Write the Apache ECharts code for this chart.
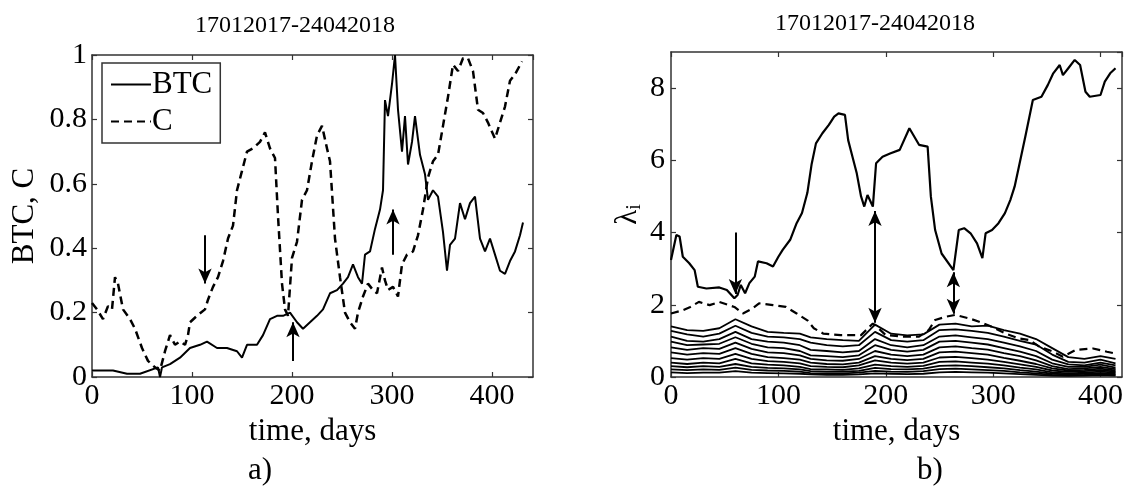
<!DOCTYPE html>
<html>
<head>
<meta charset="utf-8">
<script src="https://cdn.jsdelivr.net/npm/echarts@6/dist/echarts.min.js"></script>
<style>
  html, body { margin: 0; padding: 0; background: #fff; }
  #myChart { width: 1126px; height: 488px; }
</style>
</head>
<body>
<div id="myChart"></div>
<script>
// panel a) : BTC and C, normalized
var btcDays = [0,11,21,35,48,66,68,70,78,88,98,108,115,125,135,145,150,155,165,171,178,185,191,198,205,211,218,225,231,238,245,251,256,261,266,270,273,278,283,288,291,293,296,300,303,306,310,313,316,320,323,328,333,336,341,346,351,355,358,363,368,373,378,383,388,393,398,403,408,413,418,423,428,431];
var btcVals = [0.02,0.02,0.02,0.01,0.01,0.03,0.00,0.03,0.04,0.06,0.09,0.10,0.11,0.09,0.09,0.08,0.06,0.10,0.10,0.13,0.18,0.19,0.19,0.20,0.17,0.15,0.17,0.19,0.21,0.26,0.27,0.29,0.31,0.35,0.31,0.29,0.38,0.39,0.46,0.52,0.58,0.86,0.81,0.91,1.00,0.83,0.70,0.81,0.66,0.73,0.81,0.69,0.63,0.55,0.58,0.56,0.45,0.33,0.41,0.43,0.54,0.49,0.54,0.56,0.43,0.39,0.43,0.38,0.33,0.32,0.36,0.39,0.44,0.48];

var cDays = [0,5,11,16,20,23,26,31,38,43,50,56,63,68,73,78,83,88,93,96,98,105,113,116,121,126,131,136,141,145,150,155,161,168,173,178,183,186,190,193,196,200,205,210,215,220,225,230,235,238,243,248,253,258,263,266,271,276,281,285,290,293,296,301,306,310,315,321,326,331,336,341,346,351,356,361,366,371,376,381,386,391,396,403,408,413,418,423,430];
var cVals = [0.23,0.21,0.18,0.22,0.21,0.31,0.29,0.21,0.18,0.15,0.09,0.05,0.03,0.02,0.08,0.13,0.10,0.11,0.10,0.13,0.17,0.19,0.21,0.24,0.28,0.31,0.36,0.43,0.47,0.58,0.64,0.70,0.71,0.73,0.76,0.71,0.68,0.50,0.29,0.21,0.19,0.37,0.42,0.55,0.58,0.67,0.75,0.78,0.71,0.67,0.43,0.31,0.20,0.17,0.15,0.20,0.25,0.29,0.27,0.26,0.34,0.30,0.27,0.28,0.25,0.35,0.38,0.39,0.44,0.52,0.62,0.67,0.69,0.78,0.87,0.97,0.95,0.99,0.99,0.95,0.83,0.82,0.79,0.74,0.79,0.84,0.92,0.94,0.98];

// arrows in a): [day, from, to]
var arrowsA = [[113, 0.44, 0.29], [201, 0.05, 0.17], [301, 0.38, 0.52]];

// panel b) : eigenvalues
var lam1Days = [0,5,8,11,17,22,25,33,45,52,59,62,65,69,73,78,81,89,95,100,104,111,117,122,127,131,135,141,147,152,156,162,165,169,173,177,180,183,188,191,197,204,213,222,231,239,242,246,252,263,268,273,279,285,290,293,299,305,311,316,320,324,330,337,345,351,356,362,365,370,376,381,386,390,400,404,409,414];
var lam1Vals = [3.24,3.93,3.89,3.33,3.15,2.96,2.50,2.45,2.48,2.41,2.18,2.27,2.55,2.32,2.60,2.78,3.20,3.15,3.06,3.33,3.52,3.80,4.26,4.54,5.10,5.90,6.47,6.75,6.98,7.21,7.30,7.26,6.56,6.10,5.64,5.00,4.72,5.04,4.72,5.92,6.10,6.19,6.29,6.89,6.43,6.38,5.00,4.07,3.42,2.96,4.07,4.12,3.98,3.70,3.29,3.98,4.07,4.26,4.54,4.90,5.27,5.82,6.66,7.67,7.76,8.09,8.41,8.64,8.36,8.55,8.78,8.64,7.90,7.76,7.81,8.18,8.41,8.55];

var lam2Days = [0,11,18,26,36,45,59,67,76,82,95,107,117,127,133,142,158,177,188,190,200,216,231,240,246,256,265,278,287,299,312,324,334,343,356,365,377,393,406,414];
var lam2Vals = [1.76,1.85,1.94,2.08,1.99,2.08,1.94,1.76,1.90,2.04,1.99,1.94,1.76,1.57,1.35,1.20,1.16,1.16,1.48,1.44,1.16,1.12,1.12,1.30,1.58,1.67,1.72,1.62,1.53,1.39,1.20,1.07,1.02,0.84,0.70,0.56,0.75,0.79,0.70,0.65];

var lowDays = [0,15,30,45,60,75,90,105,120,130,145,160,175,190,205,220,235,250,265,280,295,310,325,340,355,370,385,400,414];
var lam3 = [1.40,1.30,1.28,1.35,1.60,1.40,1.25,1.22,1.20,1.10,1.05,1.02,1.00,1.45,1.20,1.15,1.18,1.45,1.48,1.40,1.42,1.30,1.20,1.05,0.80,0.55,0.50,0.58,0.50];
var lam4 = [1.28,1.18,1.12,1.20,1.42,1.22,1.12,1.10,1.05,0.95,0.88,0.85,0.88,1.25,1.02,0.98,1.02,1.30,1.32,1.28,1.22,1.12,1.00,0.90,0.62,0.42,0.40,0.48,0.38];
var lam5 = [1.12,1.00,0.98,1.05,1.25,1.05,0.98,0.95,0.88,0.75,0.72,0.68,0.72,1.05,0.88,0.82,0.88,1.12,1.15,1.10,1.05,0.95,0.85,0.72,0.48,0.35,0.32,0.40,0.32];
var lam6 = [0.98,0.88,0.90,0.92,1.10,0.92,0.82,0.80,0.72,0.60,0.58,0.55,0.60,0.88,0.75,0.70,0.75,0.98,1.00,0.95,0.90,0.80,0.70,0.58,0.38,0.28,0.28,0.34,0.26];
var lam7 = [0.82,0.75,0.80,0.78,0.95,0.78,0.68,0.66,0.60,0.50,0.46,0.45,0.50,0.72,0.62,0.58,0.62,0.82,0.85,0.80,0.76,0.66,0.58,0.46,0.30,0.22,0.24,0.28,0.22];
var lam8 = [0.68,0.62,0.66,0.64,0.80,0.64,0.55,0.52,0.48,0.40,0.36,0.35,0.40,0.58,0.50,0.47,0.50,0.68,0.70,0.66,0.62,0.53,0.45,0.36,0.24,0.18,0.20,0.23,0.18];
var lam9 = [0.52,0.48,0.52,0.50,0.64,0.50,0.44,0.42,0.38,0.30,0.28,0.27,0.32,0.46,0.40,0.37,0.40,0.54,0.56,0.52,0.48,0.42,0.35,0.28,0.18,0.14,0.16,0.19,0.15];
var lam10 = [0.40,0.36,0.40,0.38,0.50,0.38,0.34,0.32,0.28,0.22,0.21,0.20,0.24,0.34,0.30,0.28,0.31,0.42,0.43,0.40,0.37,0.32,0.26,0.21,0.13,0.10,0.12,0.15,0.12];
var lam11 = [0.30,0.27,0.30,0.28,0.36,0.28,0.25,0.24,0.21,0.16,0.15,0.15,0.17,0.25,0.22,0.21,0.23,0.31,0.32,0.30,0.27,0.24,0.19,0.15,0.09,0.07,0.09,0.11,0.09];
var lam12 = [0.21,0.19,0.21,0.20,0.26,0.20,0.18,0.17,0.15,0.11,0.10,0.10,0.12,0.17,0.15,0.14,0.16,0.22,0.23,0.21,0.19,0.17,0.13,0.10,0.06,0.05,0.06,0.08,0.06];
var lam13 = [0.13,0.11,0.12,0.12,0.16,0.12,0.11,0.10,0.09,0.07,0.06,0.06,0.07,0.10,0.09,0.08,0.09,0.13,0.14,0.13,0.12,0.10,0.08,0.06,0.04,0.03,0.04,0.05,0.04];
var lowLines = [lam3, lam4, lam5, lam6, lam7, lam8, lam9, lam10, lam11, lam12, lam13];

// arrows in b): [day, from, to, doubleHeaded]
var arrowsB = [[60, 4.0, 2.3, false], [190, 4.6, 1.5, true], [263, 2.9, 1.75, true]];

var titleText = '17012017-24042018';
var FONT = 'Liberation Serif';

function pairs(xs, ys){
  return xs.map(function(x, i){ return [x, ys[i]]; });
}

function arrowData(list){
  return list.map(function(a){
    return [
      {coord: [a[0], a[1]], symbol: a[3] ? 'arrow' : 'none', symbolSize: [10, 15]},
      {coord: [a[0], a[2]], symbol: 'arrow', symbolSize: [10, 15]}
    ];
  });
}

function axis(opt){
  var base = {
    type: 'value',
    axisLine: {show: true, onZero: false, lineStyle: {color: '#333', width: 1.5}},
    axisTick: {show: true, inside: true, length: 5, lineStyle: {color: '#333', width: 1.2}},
    splitLine: {show: false},
    axisLabel: {show: false}
  };
  for (var k in opt) base[k] = opt[k];
  return base;
}

var nameStyle = {fontFamily: FONT, fontSize: 31, color: '#000'};

function lineSeries(name, data, xi, dashed, width){
  return {
    name: name,
    type: 'line',
    xAxisIndex: xi,
    yAxisIndex: xi,
    data: data,
    symbol: 'none',
    showSymbol: false,
    silent: true,
    lineStyle: {color: '#000', width: width || 2, type: dashed ? [8, 5] : 'solid'},
    itemStyle: {color: '#000'}
  };
}

var series = [];
var btc = lineSeries('BTC', pairs(btcDays, btcVals), 0, false, 2);
btc.markLine = {
  silent: true, animation: false,
  label: {show: false},
  lineStyle: {color: '#000', width: 2, type: 'solid'},
  data: arrowData(arrowsA)
};
series.push(btc);
series.push(lineSeries('C', pairs(cDays, cVals), 0, true, 2.5));

lowLines.forEach(function(vals){
  series.push(lineSeries('', pairs(lowDays, vals), 2, false, 1.8));
});
series.push(lineSeries('', pairs(lam2Days, lam2Vals), 2, true, 2.2));
var l1 = lineSeries('', pairs(lam1Days, lam1Vals), 2, false, 2.2);
l1.markLine = {
  silent: true, animation: false,
  label: {show: false},
  lineStyle: {color: '#000', width: 2, type: 'solid'},
  data: arrowData(arrowsB)
};
series.push(l1);

var tickLabel = {show: true, fontFamily: FONT, fontSize: 30, color: '#000'};
function lbl(extra){
  var o = {};
  for (var k in tickLabel) o[k] = tickLabel[k];
  for (var j in extra) o[j] = extra[j];
  return o;
}

var option = {
  animation: false,
  backgroundColor: '#fff',
  title: [
    {text: titleText, left: 290, top: 9, textAlign: 'center', textStyle: {fontFamily: FONT, fontSize: 24, fontWeight: 'normal', color: '#000'}},
    {text: titleText, left: 870, top: 7, textAlign: 'center', textStyle: {fontFamily: FONT, fontSize: 24, fontWeight: 'normal', color: '#000'}},
    {text: 'a)', left: 255, top: 450, textAlign: 'center', textStyle: {fontFamily: FONT, fontSize: 31, fontWeight: 'normal', color: '#000'}},
    {text: 'b)', left: 925, top: 450, textAlign: 'center', textStyle: {fontFamily: FONT, fontSize: 31, fontWeight: 'normal', color: '#000'}}
  ],
  legend: {
    data: ['BTC', 'C'],
    orient: 'vertical',
    left: 102, top: 63,
    padding: [6, 8, 6, 8],
    itemGap: 6,
    itemWidth: 40, itemHeight: 14,
    itemStyle: {opacity: 0},
    borderColor: '#333', borderWidth: 1.5,
    textStyle: {fontFamily: FONT, fontSize: 31, color: '#000', padding: [0, 0, 0, -4]}
  },
  grid: [
    {left: 92, top: 55, width: 441, height: 322},
    {left: 671, top: 52, width: 452, height: 325}
  ],
  xAxis: [
    axis({gridIndex: 0, min: 0, max: 441, interval: 100, position: 'bottom', axisLabel: lbl({margin: 4, showMaxLabel: false}),
      name: 'time, days', nameLocation: 'middle', nameGap: 34, nameTextStyle: nameStyle}),
    axis({gridIndex: 0, min: 0, max: 441, interval: 100, position: 'top'}),
    axis({gridIndex: 1, min: 0, max: 420, interval: 100, position: 'bottom', axisLabel: lbl({margin: 4, showMaxLabel: false}),
      name: 'time, days', nameLocation: 'middle', nameGap: 34, nameTextStyle: nameStyle}),
    axis({gridIndex: 1, min: 0, max: 420, interval: 100, position: 'top'})
  ],
  yAxis: [
    axis({gridIndex: 0, min: 0, max: 1, interval: 0.2, position: 'left', axisLabel: lbl({margin: 5}),
      name: 'BTC, C', nameLocation: 'middle', nameGap: 52, nameRotate: 90, nameTextStyle: nameStyle}),
    axis({gridIndex: 0, min: 0, max: 1, interval: 0.2, position: 'right'}),
    axis({gridIndex: 1, min: 0, max: 9, interval: 2, position: 'left', axisLabel: lbl({margin: 6, showMaxLabel: false}),
      name: '{l|λ}{s|i}', nameLocation: 'middle', nameGap: 26, nameRotate: 90,
      nameTextStyle: {fontFamily: FONT, color: '#000', rich: {
        l: {fontFamily: FONT, fontSize: 31, color: '#000', verticalAlign: 'middle'},
        s: {fontFamily: FONT, fontSize: 20, color: '#000', verticalAlign: 'bottom', padding: [14, 0, 0, 0]}
      }}}),
    axis({gridIndex: 1, min: 0, max: 9, interval: 2, position: 'right'})
  ],
  series: series
};

var myChart = echarts.init(document.getElementById('myChart'), null, {renderer: 'canvas'});
myChart.setOption(option);
</script>
</body>
</html>
